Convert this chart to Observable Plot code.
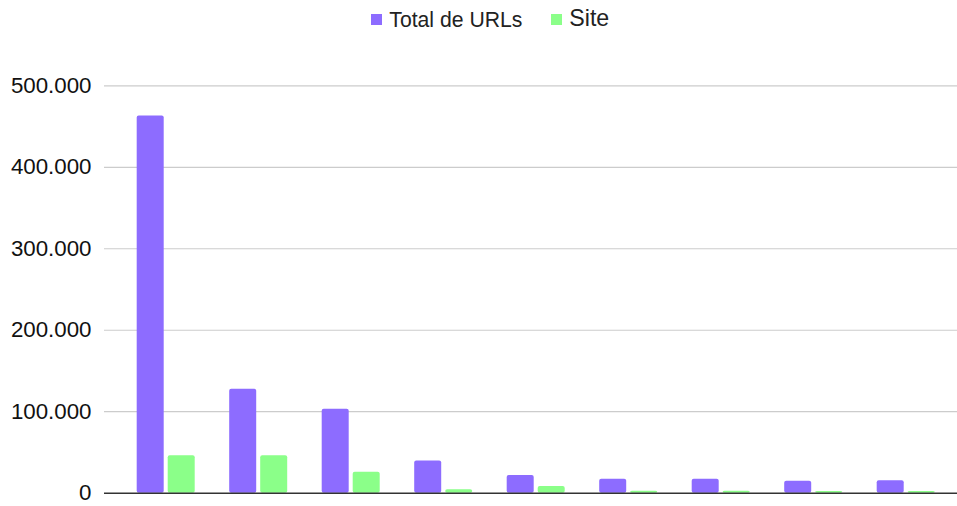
<!DOCTYPE html>
<html>
<head>
<meta charset="utf-8">
<script src="https://cdn.jsdelivr.net/npm/d3@7"></script>
<script src="https://cdn.jsdelivr.net/npm/@observablehq/plot@0.6"></script>
<style>
  html, body { margin: 0; padding: 0; background: #fff; }
  #wrap { position: relative; width: 957px; height: 506px; font-family: "Liberation Sans", Arial, sans-serif; }
  .sw { position: absolute; width: 11px; height: 11px; }
  .lt { position: absolute; line-height: 1; color: #222; white-space: nowrap; }
  #chart { position: absolute; left: 0; top: 0; }
</style>
</head>
<body>
<div id="wrap">
  <div id="chart"></div>
  <div id="legend"></div>
</div>
<script>
const categories = ["1", "2", "3", "4", "5", "6", "7", "8", "9"];
const totalURLs = [463000, 127500, 103000, 39500, 21700, 17200, 17200, 14800, 15200];
const siteURLs  = [45900, 45900, 25800, 4200, 8200, 2500, 2500, 2200, 2200];
const seriesNames = ["Total de URLs", "Site"];
const seriesColors = ["#8d6cff", "#8bff89"];
const yTicks = [0, 100000, 200000, 300000, 400000, 500000];

const rows = categories.map((c, i) => ({cat: c, total: totalURLs[i], site: siteURLs[i]}));

const fmt = d3.formatLocale({decimal: ",", thousands: ".", grouping: [3], currency: ["", ""]}).format(",d");

const chart = Plot.plot({
  width: 957,
  height: 506,
  marginLeft: 104,
  marginRight: 0,
  marginTop: 85.3,
  marginBottom: 13.3,
  style: {fontFamily: "'Liberation Sans', Arial, sans-serif", fontSize: "22.3px", color: "#111", background: "#fff"},
  x: {domain: categories, range: [119.45, 951.95], padding: 0, round: false, axis: null},
  y: {domain: [0, 500000], ticks: yTicks, tickFormat: fmt, tickSize: 0, tickPadding: 13, label: null},
  marks: [
    Plot.ruleY(yTicks.filter(d => d > 0), {stroke: "#cccccc", strokeWidth: 1.2}),
    Plot.barY(rows, {x: "cat", y: "total", fill: seriesColors[0], insetLeft: 17.25, insetRight: 48.25, rx: 2}),
    Plot.barY(rows, {x: "cat", y: "site", fill: seriesColors[1], insetLeft: 48.25, insetRight: 17.25, rx: 2}),
    Plot.ruleY([0], {stroke: "#333333", strokeWidth: 1.6})
  ]
});
document.getElementById("chart").appendChild(chart);

// Legend
const legend = document.getElementById("legend");
const legendItems = [
  {name: seriesNames[0], color: seriesColors[0], sx: 371, tx: 389.3, size: 21.2, top: 8.7},
  {name: seriesNames[1], color: seriesColors[1], sx: 551, tx: 569.3, size: 23.2, top: 7.0}
];
legendItems.forEach(it => {
  const sw = document.createElement("div");
  sw.className = "sw";
  sw.style.left = it.sx + "px";
  sw.style.top = "14px";
  sw.style.background = it.color;
  legend.appendChild(sw);
  const t = document.createElement("div");
  t.className = "lt";
  t.style.left = it.tx + "px";
  t.style.top = it.top + "px";
  t.style.fontSize = it.size + "px";
  t.textContent = it.name;
  legend.appendChild(t);
});
</script>
</body>
</html>
